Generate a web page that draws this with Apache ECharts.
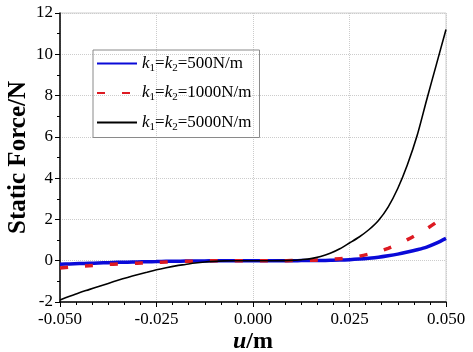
<!DOCTYPE html>
<html>
<head>
<meta charset="utf-8">
<script src="https://cdn.jsdelivr.net/npm/echarts@6/dist/echarts.min.js"></script>
<style>
  html, body { margin: 0; padding: 0; background: #fff; }
  #chart { width: 473px; height: 352px; }
</style>
</head>
<body>
<div id="chart"></div>
<script>
// displacement u (m)
var uValues = [-0.05, -0.0475, -0.045, -0.0425, -0.04, -0.0375, -0.035, -0.0325, -0.03, -0.0275,
               -0.025, -0.0225, -0.02, -0.0175, -0.015, -0.0125, -0.01, -0.0075, -0.005, -0.0025, 0,
               0.0025, 0.005, 0.0075, 0.01, 0.0125, 0.015, 0.0175, 0.02, 0.0225, 0.025,
               0.0275, 0.03, 0.0325, 0.035, 0.0375, 0.04, 0.0425, 0.045, 0.0475, 0.05];
// static force (N) for each stiffness
var force500 = [-0.17, -0.155, -0.14, -0.125, -0.11, -0.095, -0.08, -0.07, -0.06, -0.05,
                -0.04, -0.03, -0.025, -0.018, -0.012, -0.008, -0.005, -0.002, 0, 0, 0,
                0, 0, 0, 0, 0.005, 0.008, 0.012, 0.02, 0.03, 0.05,
                0.08, 0.12, 0.17, 0.24, 0.32, 0.42, 0.53, 0.66, 0.85, 1.08];
var force1000 = [-0.35, -0.31, -0.27, -0.24, -0.21, -0.18, -0.16, -0.14, -0.12, -0.1,
                 -0.08, -0.06, -0.045, -0.03, -0.02, -0.01, -0.005, 0, 0, 0, 0,
                 0, 0, 0, 0.005, 0.01, 0.02, 0.035, 0.06, 0.1, 0.14,
                 0.22, 0.32, 0.44, 0.6, 0.79, 1.02, 1.27, 1.55, 1.86, 2.2];
var force5000 = [-1.9, -1.72, -1.55, -1.4, -1.25, -1.1, -0.95, -0.81, -0.68, -0.56,
                 -0.44, -0.34, -0.25, -0.18, -0.11, -0.06, -0.03, -0.01, 0, 0, 0,
                 0, 0, 0.005, 0.015, 0.05, 0.1, 0.2, 0.36, 0.58, 0.86,
                 1.15, 1.5, 1.95, 2.6, 3.5, 4.65, 6.05, 7.8, 9.5, 11.2];
var seriesNames = ['k1=k2=500N/m', 'k1=k2=1000N/m', 'k1=k2=5000N/m'];
var legendLabels = {
  'k1=k2=500N/m': '{k|k}{s|1}{t|=}{k|k}{s|2}{t|=500N/m}',
  'k1=k2=1000N/m': '{k|k}{s|1}{t|=}{k|k}{s|2}{t|=1000N/m}',
  'k1=k2=5000N/m': '{k|k}{s|1}{t|=}{k|k}{s|2}{t|=5000N/m}'
};

function pairs(ys) {
  var out = [];
  for (var i = 0; i < uValues.length; i++) out.push([uValues[i], ys[i]]);
  return out;
}

var serif = 'Liberation Serif';
var chart = echarts.init(document.getElementById('chart'));
var option = {
  animation: false,
  grid: {
    left: 60, right: 27, top: 13, bottom: 50,
    outerBoundsMode: 'none',
    show: true, borderColor: '#cfcfcf', borderWidth: 1
  },
  legend: {
    orient: 'vertical',
    left: 93, top: 50,
    data: seriesNames,
    itemWidth: 40, itemHeight: 16, itemGap: 11,
    padding: [5, 8, 5, 3],
    borderColor: '#8a8a8a', borderWidth: 1,
    itemStyle: { opacity: 0 },
    formatter: function (name) { return legendLabels[name]; },
    textStyle: {
      fontFamily: serif, fontSize: 17, color: '#000',
      rich: {
        k: { fontFamily: serif, fontSize: 17, fontStyle: 'italic', color: '#000' },
        s: { fontFamily: serif, fontSize: 11, color: '#000', verticalAlign: 'bottom', padding: [9, 0, 0, 0] },
        t: { fontFamily: serif, fontSize: 17, color: '#000' }
      }
    }
  },
  xAxis: {
    type: 'value',
    min: -0.05, max: 0.05, interval: 0.025,
    name: '{i|u}{b|/m}',
    nameLocation: 'middle', nameGap: 28, nameMoveOverlap: false,
    nameTextStyle: {
      rich: {
        i: { fontFamily: serif, fontSize: 24, fontWeight: 'bold', fontStyle: 'italic', color: '#000' },
        b: { fontFamily: serif, fontSize: 24, fontWeight: 'bold', color: '#000' }
      }
    },
    axisLine: { onZero: false, lineStyle: { color: '#000', width: 1.5 } },
    axisTick: { length: 5, lineStyle: { color: '#000' } },
    minorTick: { show: true, splitNumber: 6, length: 3, lineStyle: { color: '#000' } },
    axisLabel: {
      fontFamily: serif, fontSize: 17, color: '#000', margin: 9,
      formatter: function (v) { return v.toFixed(3); }
    },
    splitLine: { show: true, lineStyle: { color: '#cccccc', type: 'dotted' } }
  },
  yAxis: {
    type: 'value',
    min: -2, max: 12, interval: 2,
    name: 'Static Force/N',
    nameLocation: 'middle', nameGap: 29, nameMoveOverlap: false,
    nameTextStyle: { fontFamily: serif, fontSize: 25, fontWeight: 'bold', color: '#000' },
    axisLine: { show: true, onZero: false, lineStyle: { color: '#000', width: 1.5 } },
    axisTick: { show: true, length: 5, lineStyle: { color: '#000' } },
    minorTick: { show: true, splitNumber: 2, length: 3, lineStyle: { color: '#000' } },
    axisLabel: { fontFamily: serif, fontSize: 17, color: '#000', margin: 7 },
    splitLine: { show: true, lineStyle: { color: '#cccccc', type: 'dotted' } }
  },
  series: [
    {
      name: seriesNames[0], type: 'line', smooth: 0.3, symbol: 'none',
      data: pairs(force500),
      lineStyle: { color: '#0a0ad8', width: 3.5 },
      itemStyle: { color: '#0a0ad8' }
    },
    {
      name: seriesNames[1], type: 'line', smooth: 0.3, symbol: 'none',
      data: pairs(force1000),
      lineStyle: { color: '#dd1a22', width: 3.5, type: [8, 17] },
      itemStyle: { color: '#dd1a22' }
    },
    {
      name: seriesNames[2], type: 'line', smooth: 0.3, symbol: 'none',
      data: pairs(force5000),
      lineStyle: { color: '#000', width: 1.6 },
      itemStyle: { color: '#000' }
    }
  ]
};
chart.setOption(option, true);
window.onresize = function () {
  chart.resize();
};
</script>
</body>
</html>
